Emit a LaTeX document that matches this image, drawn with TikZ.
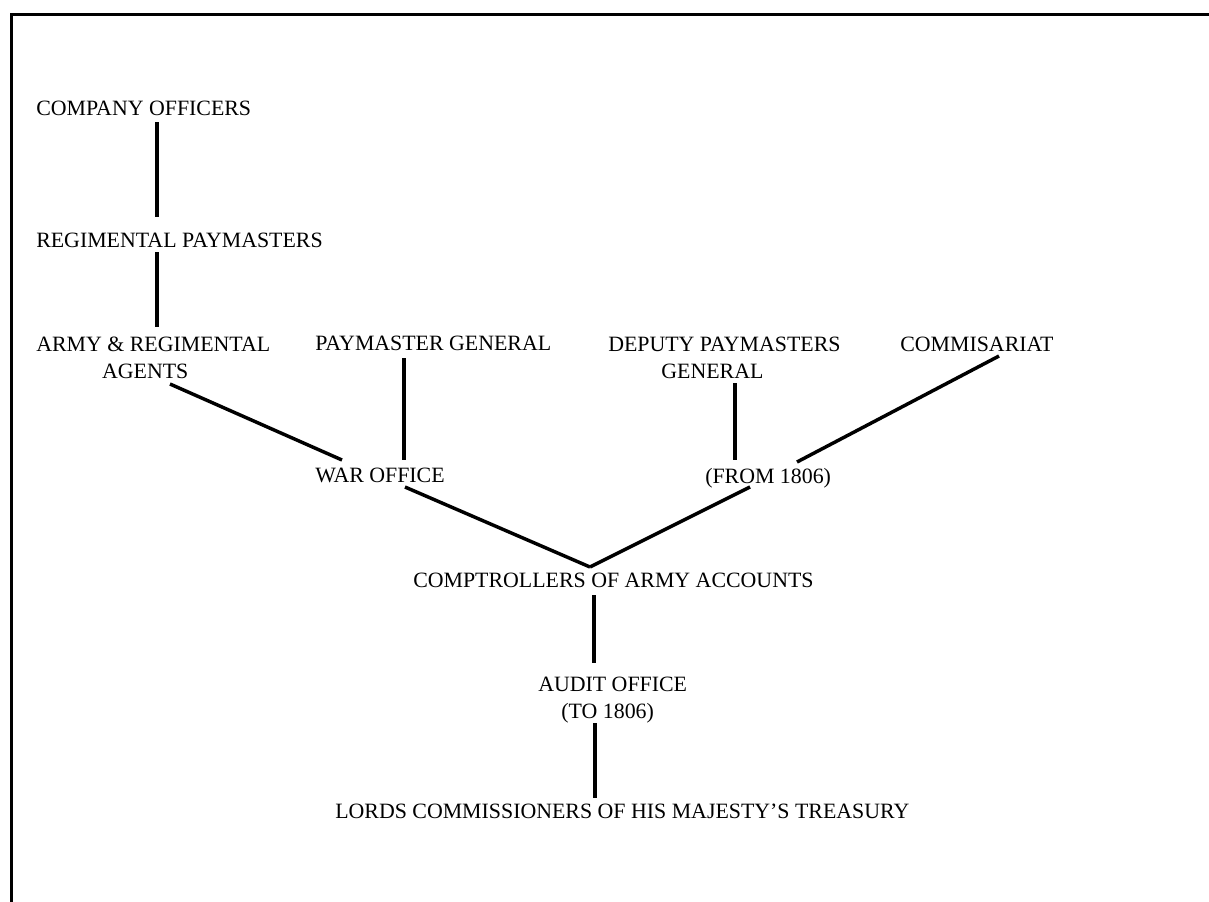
\documentclass[tikz,border=0pt]{standalone}
\usepackage{fontspec}
\setmainfont{Liberation Serif}
\usetikzlibrary{calc}
\begin{document}
\begin{tikzpicture}[x=0.75pt,y=-0.75pt,
  lbl/.style={anchor=base west,inner sep=0pt,align=center,font=\fontsize{16.4}{20.25}\selectfont},
  link/.style={line width=2.6pt},
  frameline/.style={line width=2pt}]
\useasboundingbox (0,0) rectangle (1209,901);
\fill[white] (0,0) rectangle (1209,901);
\draw[frameline] (11.5,910) -- (11.5,14.7) -- (1220,14.7);

% anchor base west = baseline of the last text line
\node[lbl] (co) at (36,115) {COMPANY OFFICERS};
\node[lbl] (rp) at (36,247) {REGIMENTAL PAYMASTERS};
\node[lbl] (ar) at (36,378) {ARMY \& REGIMENTAL\\AGENTS\kern12pt};
\node[lbl] (pg) at (315,350) {PAYMASTER GENERAL};
\node[lbl] (dp) at (608,378) {DEPUTY PAYMASTERS\\GENERAL\kern18pt};
\node[lbl] (cm) at (900,351) {COMMISARIAT};
\node[lbl] (wo) at (315,482) {WAR OFFICE};
\node[lbl] (fr) at (705,483) {(FROM 1806)};
\node[lbl] (ca) at (413,587) {COMPTROLLERS OF ARMY ACCOUNTS};
\node[lbl] (au) at (538,718) {AUDIT OFFICE\\(TO 1806)\kern7.5pt};
\node[lbl] (lo) at (335,818) {LORDS COMMISSIONERS OF HIS MAJESTY’S TREASURY};

\coordinate (v) at ($(ca.base west)+(177,-20)$);

\draw[link] ($(co.base west)+(121,7)$) -- ($(rp.base west)+(121,-30)$);
\draw[link] ($(rp.base west)+(121,5)$) -- ($(ar.base west)+(121,-51)$);
\draw[link] ($(ar.base west)+(134,6)$) -- ($(wo.base west)+(27,-22)$);
\draw[link] ($(pg.base west)+(89,8)$) -- ($(wo.base west)+(89,-22)$);
\draw[link] ($(dp.base west)+(127,5)$) -- ($(fr.base west)+(30,-23)$);
\draw[link] ($(cm.base west)+(99,5)$) -- ($(fr.base west)+(92,-21)$);
\draw[link] ($(wo.base west)+(90,5)$) -- (v);
\draw[link] ($(fr.base west)+(45,4)$) -- (v);
\draw[link] ($(ca.base west)+(181,8)$) -- ($(au.base west)+(56,-55)$);
\draw[link] ($(au.base west)+(57,5)$) -- ($(lo.base west)+(260,-20)$);
\end{tikzpicture}
\end{document}
